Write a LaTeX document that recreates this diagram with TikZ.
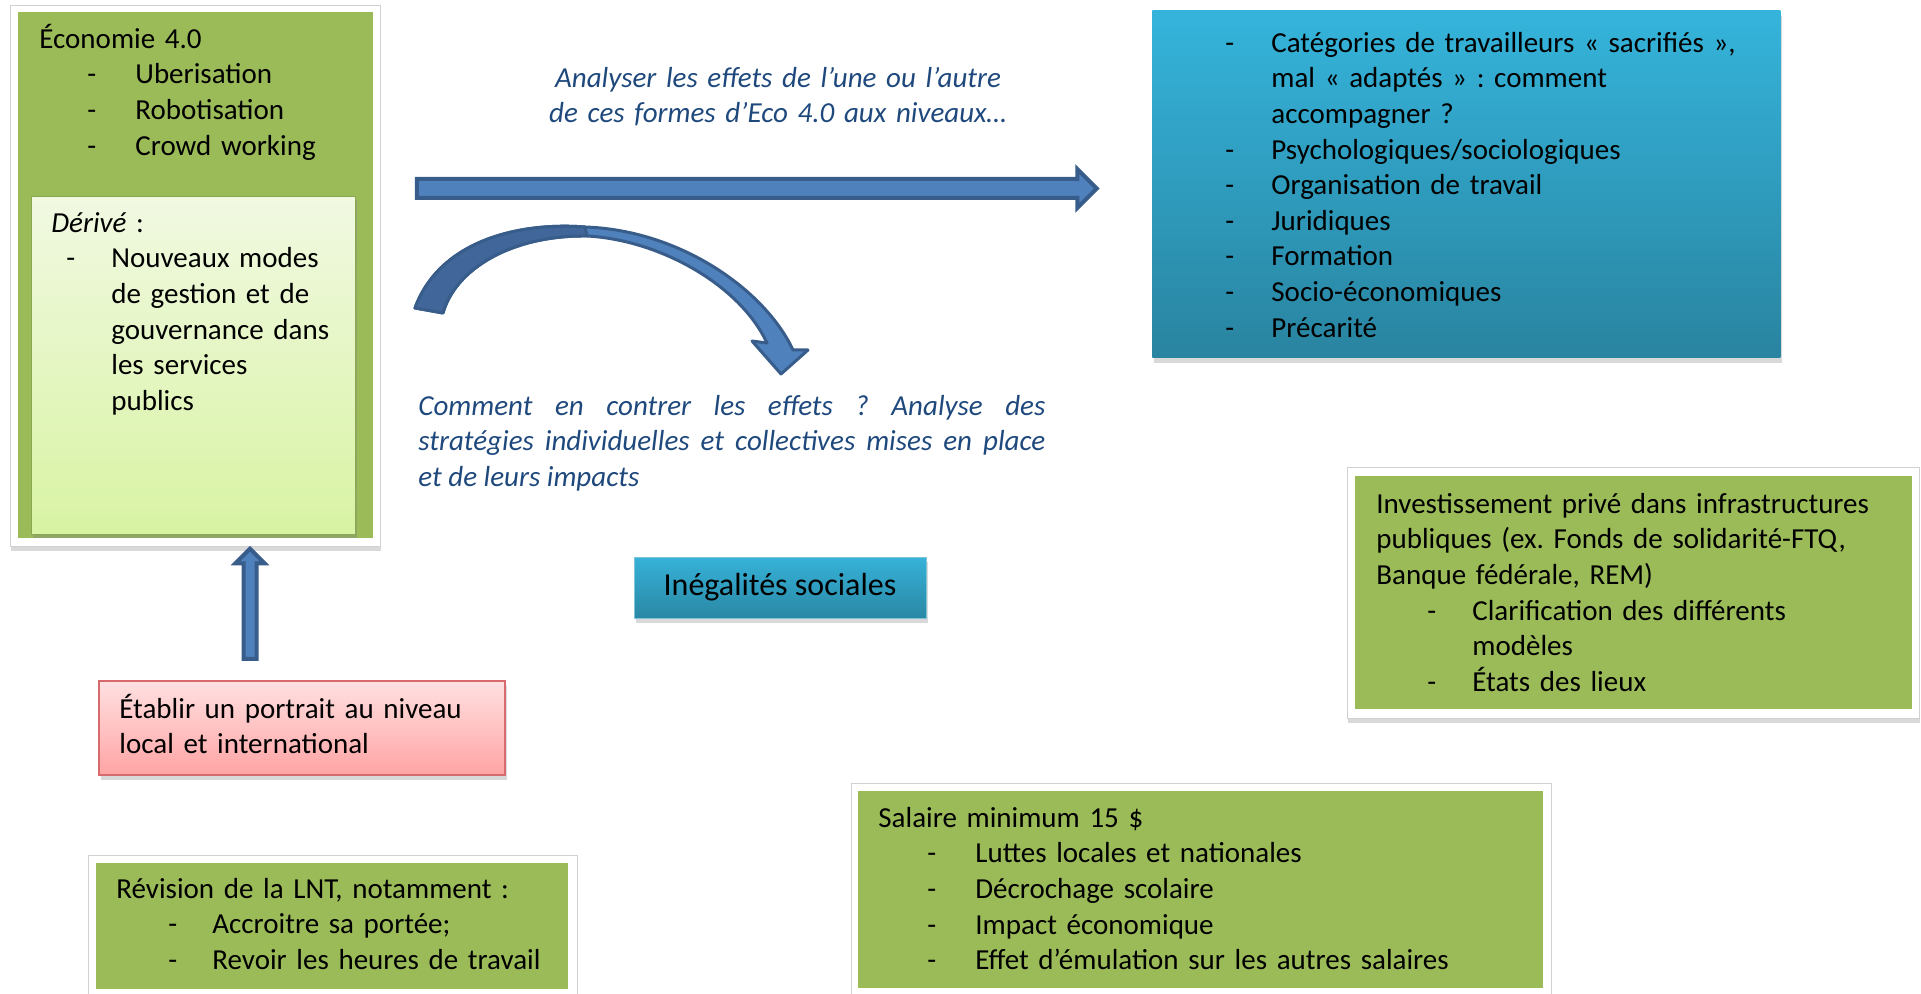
\documentclass[tikz,border=0pt]{standalone}
\usepackage{fontspec}
\setmainfont{Carlito}
\usetikzlibrary{shapes.arrows,shadows}
\setlength\parindent{0pt}
\frenchspacing

\definecolor{accgreen}{HTML}{9BBB59}
\definecolor{arrfill}{HTML}{4F81BD}
\definecolor{arrline}{HTML}{385D8A}
\definecolor{arrdark}{HTML}{41669A}
\definecolor{ecotext}{HTML}{1F497D}

\newcommand\bodyfont{\fontsize{14.5pt}{17.8pt}\selectfont}
\newlength\dashoff
\newlength\txtoff
\newcommand\itm[1]{\makebox[\txtoff][l]{\hspace*{\dashoff}-}#1}
\newcommand\cnt[1]{\hspace*{\txtoff}#1}

\tikzset{
  whiteframe/.style={draw=black!18, fill=white, inner sep=0pt, anchor=north west,
    drop shadow={opacity=.3, shadow xshift=.5pt, shadow yshift=-2.5pt}},
  greenbox/.style={fill=accgreen, inner sep=0pt, anchor=north west},
  lightbox/.style={draw=accgreen!90!black, top color={rgb,255:red,241;green,249;blue,226},
    bottom color={rgb,255:red,216;green,243;blue,163}, inner sep=0pt, anchor=north west,
    drop shadow={opacity=.35, shadow xshift=1pt, shadow yshift=-2pt}},
  bluebox/.style={top color={rgb,255:red,53;green,180;blue,219},
    bottom color={rgb,255:red,41;green,132;blue,160}, inner sep=0pt, anchor=north west,
    drop shadow={opacity=.3, shadow xshift=1pt, shadow yshift=-3pt}},
  redbox/.style={draw={rgb,255:red,214;green,106;blue,108}, line width=1pt,
    top color={rgb,255:red,255;green,224;blue,225}, bottom color={rgb,255:red,255;green,164;blue,164},
    inner sep=0pt, anchor=north west,
    drop shadow={opacity=.3, shadow xshift=1pt, shadow yshift=-2.5pt}},
  inegbox/.style={draw={rgb,255:red,128;green,196;blue,218}, line width=.5pt,
    top color={rgb,255:red,54;green,178;blue,217}, bottom color={rgb,255:red,42;green,136;blue,164},
    inner sep=0pt, drop shadow={opacity=.3, shadow xshift=1pt, shadow yshift=-2.5pt}},
  txt/.style={anchor=north west, inner sep=0pt, align=left, font=\bodyfont},
  listtxt/.style 2 args={txt, execute at begin node={\setlength\dashoff{#1}\setlength\txtoff{#2}}},
  ital/.style={inner sep=0pt, font=\bodyfont\itshape, text=ecotext},
  blockarrow/.style={single arrow, draw=arrline, fill=arrfill, inner xsep=0pt,
    single arrow tip angle=90}
}

\begin{document}
\begin{tikzpicture}[x=0.5pt,y=-0.5pt]
\useasboundingbox (0,0) rectangle (1921,994);

% Economie 4.0
\node[whiteframe, minimum width=185pt, minimum height=270.5pt] (ecoframe) at (10,5) {};
\node[greenbox, minimum width=177.5pt, minimum height=263pt] (eco) at (18,12) {};
\node[lightbox, minimum width=162pt, minimum height=169pt] (derive) at (31,196) {};
\node[listtxt={24pt}{48pt}, text width=160pt] (ecotxt) at (39,23)
  {\strut Économie 4.0\\ \itm{Uberisation}\\ \itm{Robotisation}\\ \itm{Crowd working}};
\node[listtxt={7.5pt}{30pt}, text width=158pt] (derivetxt) at (51,207)
  {\strut\textit{Dérivé} :\\ \itm{Nouveaux modes}\\ \cnt{de gestion et de}\\
   \cnt{gouvernance dans}\\ \cnt{les services}\\ \cnt{publics}};

% niveaux
\node[bluebox, minimum width=314pt, minimum height=173.5pt] (niveaux) at (1152,10) {};
\node[listtxt={0pt}{23pt}, text width=290pt] (niveauxtxt) at (1225,27)
  {\strut\itm{Catégories de travailleurs «~sacrifiés~»,}\\ \cnt{mal «~adaptés~» : comment}\\
   \cnt{accompagner ?}\\ \itm{Psychologiques/sociologiques}\\ \itm{Organisation de travail}\\
   \itm{Juridiques}\\ \itm{Formation}\\ \itm{Socio-économiques}\\ \itm{Précarité}};

% fleches
\node[blockarrow, line width=2pt, minimum height=340pt, inner ysep=3.75pt,
  single arrow head extend=5pt] (effets) at (752,188.5) {};
\node[blockarrow, line width=2pt, minimum height=55pt, inner ysep=2.25pt,
  single arrow head extend=4pt, rotate=90] (remonte) at (250,607) {};
\filldraw[fill=arrfill, draw=arrline, line width=1.5pt, line join=round]
  (415,308) .. controls (440,240) and (520,222) .. (585,227)
  .. controls (680,230) and (765,290) .. (793,350) -- (808,350) -- (781,374) -- (752,341) -- (767,343)
  .. controls (740,285) and (660,240) .. (587,236)
  .. controls (510,235) and (455,270) .. (443,313) -- cycle;
\filldraw[fill=arrdark, draw=arrline, line width=1.5pt, line join=round]
  (415,308) .. controls (440,240) and (520,222) .. (585,227) -- (587,236)
  .. controls (510,235) and (455,270) .. (443,313) -- cycle;

\node[ital, anchor=north, text width=240pt, align=center] (analyser) at (778,62)
  {\strut Analyser les effets de l’une ou l’autre\\ de ces formes d’Eco 4.0 aux niveaux…};
\node[ital, anchor=north west, text width=313.5pt, align=justify] (contrer) at (418,390)
  {\strut Comment en contrer les effets ? Analyse des\linebreak stratégies individuelles et
   collectives mises en place\linebreak et de leurs impacts};

\node[inegbox, minimum width=146pt, minimum height=30.5pt, font=\fontsize{16pt}{19pt}\selectfont]
  (inegalites) at (780,587.5) {Inégalités sociales};

% portrait
\node[redbox, minimum width=203pt, minimum height=47pt] (portrait) at (98,680) {};
\node[txt, text width=190pt] (portraittxt) at (119,693)
  {\strut Établir un portrait au niveau\\ local et international};

% investissement
\node[whiteframe, minimum width=286pt, minimum height=125.5pt] (invframe) at (1347,467) {};
\node[greenbox, minimum width=278.5pt, minimum height=116.5pt] (inv) at (1355,476) {};
\node[listtxt={25.5pt}{48pt}, text width=270pt] (invtxt) at (1376,488)
  {\strut Investissement privé dans infrastructures\\ publiques (ex. Fonds de solidarité-FTQ,\\
   Banque fédérale, REM)\\ \itm{Clarification des différents}\\ \cnt{modèles}\\ \itm{États des lieux}};

% salaire
\node[whiteframe, minimum width=350pt, minimum height=108pt] (salframe) at (851,783) {};
\node[greenbox, minimum width=342.5pt, minimum height=98.5pt] (salaire) at (858,791) {};
\node[listtxt={24.5pt}{48.5pt}, text width=320pt] (salairetxt) at (878,802)
  {\strut Salaire minimum 15 \$\\ \itm{Luttes locales et nationales}\\ \itm{Décrochage scolaire}\\
   \itm{Impact économique}\\ \itm{Effet d’émulation sur les autres salaires}};

% LNT
\node[whiteframe, minimum width=244.5pt, minimum height=74pt] (lntframe) at (88,855) {};
\node[greenbox, minimum width=236pt, minimum height=63pt] (lnt) at (96,863) {};
\node[listtxt={26pt}{48pt}, text width=235pt] (lnttxt) at (116,873)
  {\strut Révision de la LNT, notamment :\\ \itm{Accroitre sa portée;}\\ \itm{Revoir les heures de travail}};
\end{tikzpicture}
\end{document}
